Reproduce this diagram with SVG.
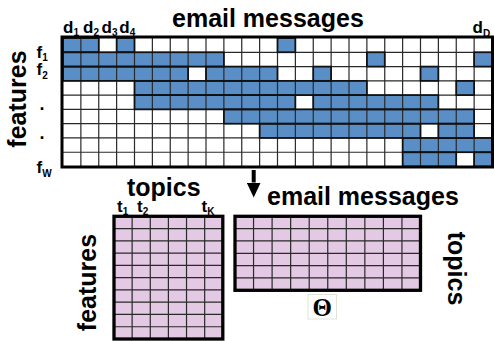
<svg xmlns="http://www.w3.org/2000/svg" xmlns:xlink="http://www.w3.org/1999/xlink" width="494" height="341" viewBox="0 0 494 341">
<style>
.lbl{font-family:"Liberation Sans",Arial,sans-serif;font-weight:bold;fill:#000}
.big{font-size:25px}
.idx{font-size:17px}
.sub{font-size:10px}
.grid{fill:none;stroke:#2a2a2a;stroke-width:1.2}
.frame{fill:none;stroke:#000;stroke-width:3}
.pink{fill:#e3c9e3}
</style>
<defs>
<g id="bluecells">
<rect x="63" y="38" width="35.75" height="14.28"/>
<rect x="116.625" y="38" width="17.875" height="14.28"/>
<rect x="277.5" y="38" width="17.875" height="14.28"/>
<rect x="63" y="52.28" width="160.875" height="14.28"/>
<rect x="366.875" y="52.28" width="17.875" height="14.28"/>
<rect x="474.125" y="52.28" width="17.875" height="14.28"/>
<rect x="63" y="66.56" width="125.125" height="14.28"/>
<rect x="206" y="66.56" width="71.5" height="14.28"/>
<rect x="313.25" y="66.56" width="17.875" height="14.28"/>
<rect x="420.5" y="66.56" width="17.875" height="14.28"/>
<rect x="134.5" y="80.84" width="232.375" height="14.28"/>
<rect x="456.25" y="80.84" width="17.875" height="14.28"/>
<rect x="134.5" y="95.12" width="160.875" height="14.28"/>
<rect x="313.25" y="95.12" width="125.125" height="14.28"/>
<rect x="223.875" y="109.4" width="250.25" height="14.28"/>
<rect x="259.625" y="123.68" width="160.875" height="14.28"/>
<rect x="438.375" y="123.68" width="35.75" height="14.28"/>
<rect x="402.625" y="137.96" width="89.375" height="14.28"/>
<rect x="402.625" y="152.24" width="53.625" height="14.28"/>
<rect x="474.125" y="152.24" width="17.875" height="14.28"/>
</g>
<marker id="head" markerUnits="userSpaceOnUse" viewBox="0 0 15 14" refX="0" refY="7" markerWidth="15" markerHeight="14" orient="auto">
<path d="M0,0L15,7L0,14z" fill="#000"/>
</marker>
</defs>
<rect width="494" height="341" fill="#fff"/>

<g id="data-matrix">
<rect x="63" y="38" width="429" height="128.52" fill="#fff"/>
<use xlink:href="#bluecells" fill="#5a8ec7" stroke="none"/>
<path class="grid" d="M80.875 38V166.52M98.75 38V166.52M116.625 38V166.52M134.5 38V166.52M152.375 38V166.52M170.25 38V166.52M188.125 38V166.52M206 38V166.52M223.875 38V166.52M241.75 38V166.52M259.625 38V166.52M277.5 38V166.52M295.375 38V166.52M313.25 38V166.52M331.125 38V166.52M349 38V166.52M366.875 38V166.52M384.75 38V166.52M402.625 38V166.52M420.5 38V166.52M438.375 38V166.52M456.25 38V166.52M474.125 38V166.52M63 52.28H492M63 66.56H492M63 80.84H492M63 95.12H492M63 109.4H492M63 123.68H492M63 137.96H492M63 152.24H492"/>
<use xlink:href="#bluecells" fill="none" stroke="#111" stroke-width="1.7"/>
<rect class="frame" x="62" y="37" width="430.5" height="130"/>
</g>

<g id="topic-matrix">
<rect class="pink" x="114" y="216.3" width="108.8" height="122.7"/>
<path class="grid" d="M132.13 216.3V339M150.27 216.3V339M168.4 216.3V339M186.53 216.3V339M204.67 216.3V339M114 228.57H222.8M114 240.84H222.8M114 253.11H222.8M114 265.38H222.8M114 277.65H222.8M114 289.92H222.8M114 302.19H222.8M114 314.46H222.8M114 326.73H222.8"/>
<rect class="frame" x="114" y="216.3" width="108.8" height="122.7" style="stroke-width:3.3"/>
</g>

<g id="theta-matrix">
<rect class="pink" x="235" y="216.3" width="185.5" height="74"/>
<path class="grid" d="M253.55 216.3V290.3M272.1 216.3V290.3M290.65 216.3V290.3M309.2 216.3V290.3M327.75 216.3V290.3M346.3 216.3V290.3M364.85 216.3V290.3M383.4 216.3V290.3M401.95 216.3V290.3M235 228.63H420.5M235 240.97H420.5M235 253.3H420.5M235 265.63H420.5M235 277.97H420.5"/>
<rect class="frame" x="235" y="216.3" width="185.5" height="74" style="stroke-width:3.3"/>
</g>

<g id="theta-label">
<rect x="308" y="294.5" width="28.5" height="24.5" fill="#fff" stroke="#dfe4d6" stroke-width="1"/>
<text x="322.3" y="315.5" text-anchor="middle" font-family="'Liberation Serif','Times New Roman',serif" font-weight="bold" font-size="25">Θ</text>
</g>

<g id="connectors">
<line x1="253.7" y1="170" x2="253.7" y2="182.5" stroke="#000" stroke-width="4" marker-end="url(#head)"/>
</g>

<g id="labels">
<text class="lbl big" x="172" y="27">email messages</text>
<text class="lbl idx" x="63" y="33">d<tspan class="sub" dy="3">1</tspan></text>
<text class="lbl idx" x="83" y="33">d<tspan class="sub" dy="3">2</tspan></text>
<text class="lbl idx" x="101.5" y="33">d<tspan class="sub" dy="3">3</tspan></text>
<text class="lbl idx" x="119.3" y="33">d<tspan class="sub" dy="3">4</tspan></text>
<text class="lbl idx" x="472.5" y="33">d<tspan class="sub" dy="4">D</tspan></text>
<text class="lbl idx" x="36.5" y="58">f<tspan class="sub" dy="3">1</tspan></text>
<text class="lbl idx" x="36.5" y="75">f<tspan class="sub" dy="4">2</tspan></text>
<text class="lbl" x="39.5" y="110" font-size="18">.</text>
<text class="lbl" x="39.5" y="139" font-size="18">.</text>
<text class="lbl idx" x="36.5" y="173">f<tspan class="sub" dy="4">W</tspan></text>
<text class="lbl big" transform="translate(26,99) rotate(-90)" text-anchor="middle">features</text>

<text class="lbl big" x="127" y="196">topics</text>
<text class="lbl idx" x="117" y="212">t<tspan class="sub" dy="3">1</tspan></text>
<text class="lbl idx" x="137" y="212">t<tspan class="sub" dy="3">2</tspan></text>
<text class="lbl idx" x="201.5" y="212">t<tspan class="sub" dy="3">K</tspan></text>
<text class="lbl big" transform="translate(95.5,282.5) rotate(-90)" text-anchor="middle">features</text>

<text class="lbl big" x="267" y="205">email messages</text>
<text class="lbl big" transform="translate(447.5,268.5) rotate(90)" text-anchor="middle">topics</text>
</g>
</svg>
